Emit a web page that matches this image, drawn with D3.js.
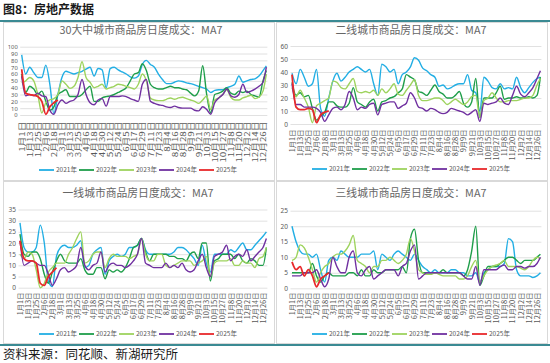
<!DOCTYPE html>
<html>
<head>
<meta charset="utf-8">
<script src="https://cdn.jsdelivr.net/npm/d3@7"></script>
<style>
  body { margin: 0; background: #fff; }
  svg { display: block; }
  text { font-family: "Noto Sans CJK SC", "Noto Sans", sans-serif; }
</style>
</head>
<body>
<svg id="chart" width="550" height="363"></svg>
<script>
// ---- data: MA7 daily transactions, sampled every 6 days (last point = day 365) ----
const years = ['2021年', '2022年', '2023年', '2024年', '2025年'];
const tickLabels = ['1月1日','1月13日','1月25日','2月6日','2月18日','3月1日','3月13日','3月25日','4月6日','4月18日',
  '4月30日','5月12日','5月24日','6月5日','6月17日','6月29日','7月11日','7月23日','8月4日','8月16日',
  '8月28日','9月9日','9月21日','10月3日','10月15日','10月27日','11月8日','11月20日','12月2日','12月14日','12月26日'];

// 30大中城市
const c30_2021 = [88,60,70,62,55,55,73,45,2,30, 55,64,62,60,62,64,67,70,57,68, 66,40,68,70,66,63,60,56,54,57, 74,80,74,70,60,52,46,46,48,50, 49,47,46,44,42,40,38,33,36,37, 37,40,42,45,57,48,50,52,53,57, 65,72];
const c30_2022 = [60,33,42,38,30,35,20,7,12,30, 34,37,27,27,27,30,37,42,20,20, 25,27,28,30,33,36,40,50,60,62, 75,65,45,40,38,38,40,42,40,40, 38,37,32,28,35,72,30,3,30,32, 35,40,32,30,35,33,35,30,28,26, 50,65];
const c30_2023 = [47,50,55,50,30,3,18,22,24,30, 50,45,39,42,55,78,55,48,40,42, 45,38,40,42,45,44,42,40,38,45, 60,50,25,22,21,21,23,25,23,25, 26,24,22,20,17,22,28,8,22,25, 30,37,26,22,22,25,27,29,24,26, 35,60];
const c30_2024 = [57,28,30,28,32,28,27,7,1,15, 22,17,20,22,30,52,30,18,15,22, 24,13,27,27,27,28,27,24,22,20, 45,52,20,17,15,14,12,11,13,11, 10,10,10,7,6,12,8,1,18,25, 30,38,28,26,30,45,33,35,38,42, 48,70];
const c30_2025 = [67,32,30,29,27,20,1,12,18,22];

// 二线城市
const t2_2021 = [39,31,42,36,29,31,42,12,6,20, 33,39,33,36,40,42,44,42,40,42, 31,22,46,44,40,42,31,38,40,44, 51,49,43,41,38,36,29,30,27,28, 30,31,31,38,26,24,10,36,33,28, 27,31,27,28,27,36,28,24,28,32, 35,36];
const t2_2022 = [32,22,24,21,22,12,3,6,9,17, 17,14,13,13,16,28,17,15,13,17, 19,10,17,18,20,21,24,27,38,36, 34,25,24,22,26,30,25,23,20,20, 22,25,16,13,17,35,5,20,20,20, 24,29,19,20,20,21,20,20,21,20, 22,36];
const t2_2023 = [28,21,26,20,13,1,14,16,18,20, 33,32,28,27,31,35,25,24,25,24, 26,22,27,24,27,31,23,22,26,30, 34,22,18,18,19,20,20,18,15,17, 19,17,15,17,21,22,5,18,20,24, 20,17,17,18,18,18,19,20,20,22, 30,35];
const t2_2024 = [31,15,15,13,13,13,12,9,2,7, 12,13,11,15,25,20,11,13,12,15, 16,7,15,16,17,17,12,14,16,24, 20,13,12,10,12,11,9,8,9,12, 11,10,9,7,9,11,2,16,15,16, 17,20,16,15,22,29,23,21,24,28, 35,41];
const t2_2025 = [38,13,11,11,12,11,1,7,9,10];

// 一线城市
const t1_2021 = [29,18,16,16,18,28,20,3,0.5,14, 18,19,18,18,19,21,9,10,15,17, 18,6,12,14,15,14,15,18,18,19, 22,17,15,15,15,15,15,15,16,18, 18,17,15,13,10,19,11,7,15,15, 15,15,17,16,18,20,17,17,19,21, 23,25];
const t1_2022 = [24,15,14,16,16,13,6,2,7,12, 15,12,11,11,11,13,8,6,6,9, 9,4,8,7,8,7,9,13,18,19, 22,16,12,15,15,15,15,14,14,13, 13,12,15,16,13,20,20,3,12,13, 15,15,15,13,15,12,11,13,12,10, 10,18];
const t1_2023 = [15,13,16,15,8,0,2,7,9,11, 11,11,15,18,22,25,11,12,15,16, 16,9,13,15,14,14,14,13,14,15, 22,15,12,12,15,15,10,9,10,11, 12,12,12,10,11,12,14,5,11,12, 12,12,13,10,10,12,11,11,9,13, 14,18];
const t1_2024 = [21,10,11,12,11,10,10,6,1,4, 8,9,7,8,10,18,10,8,10,11, 16,7,10,11,10,10,9,10,12,15, 22,11,10,9,9,9,11,9,10,9, 11,8,7,8,12,15,9,5,14,15, 16,19,12,14,15,14,17,12,14,16, 18,22];
const t1_2025 = [21,13,12,12,11,2,1,5,7,9];

// 三线城市
const t3_2021 = [20,15,12,11,11,10,11,6,2,9, 10,9,12,11,10,10,10,11,11,11, 12,6,11,10,9,11,12,11,10,9, 11,9,7,6,5,6,5,5,5,6, 6,5,5,4,4,5,2,5,6,7, 7,7,8,16,15,6,4,4,4,3.5, 4,5];
const t3_2022 = [5,5,5,5,5,8,4,2,4,5, 4,4,4,4,5,5,4,6,4,4, 6,5,5,6,6,6,6,7,5,16, 19,9,5,5,5,5,5,6,5,5, 5,5,4,6,12,20,1,4,7,7, 7,8,9,10,10,9,8,9,9,9, 10,11];
const t3_2023 = [9,10,14,13,10,6,2,5,7,8, 10,11,11,12,14,17,9,8,7,5, 7,7,9,9,10,9,8,9,11,16, 12,6,5,4.5,4.5,5,4.5,4,4,4, 4,3,3,4,7,9,2,4,6,7, 7.5,8,9,7,7,7,6.5,6,7,9, 10,9.5];
const t3_2024 = [4,4,4,5,5,5,6,3,0.5,3, 10,7,5,5,10,12,5,4,6,7, 3,4,5,6,6,6,4,7,8,12, 14,3,4,5,5,5,5,5,5,5, 5,5,4,3,3,7,1,6,6,6, 6,7,7.5,6,6,7,7,6.5,7,7, 8,10];
const t3_2025 = [8.5,6,7,4,6,4,0.5,3,4,5];

const colors = ['#22aee4', '#1f9e4a', '#9ed35e', '#7030a0', '#e8292b'];
const stepDays = 6;
const dayOf = i => Math.min(i * stepDays, 365);

const panels = [
  {title: '30大中城市商品房日度成交：MA7', series: [c30_2021, c30_2022, c30_2023, c30_2024, c30_2025],
   yMax: 100, yStep: 10, box: [3, 22, 274, 180], x0: 21.7, x1: 263, y0: 115, y1: 46.7, ySize: 5.8,
   titleX: 141, titleY: 34, legendX: 39, legendY: 170, labelTop: 121.5, labelSize: 7.5, labelStretch: 1.3},
  {title: '二线城市商品房日度成交：MA7', series: [t2_2021, t2_2022, t2_2023, t2_2024, t2_2025],
   yMax: 60, yStep: 10, box: [276, 22, 547, 180], x0: 292, x1: 537, y0: 124, y1: 46, ySize: 6.5,
   titleX: 411, titleY: 34, legendX: 312, legendY: 169, labelTop: 129.5, labelSize: 7, labelStretch: 1.05},
  {title: '一线城市商品房日度成交：MA7', series: [t1_2021, t1_2022, t1_2023, t1_2024, t1_2025],
   yMax: 35, yStep: 5, box: [3, 181, 274, 343], x0: 20, x1: 263, y0: 287.7, y1: 209.5, ySize: 6.5,
   titleX: 138, titleY: 197, legendX: 39, legendY: 334, labelTop: 292.5, labelSize: 7, labelStretch: 1.05},
  {title: '三线城市商品房日度成交：MA7', series: [t3_2021, t3_2022, t3_2023, t3_2024, t3_2025],
   yMax: 25, yStep: 5, box: [276, 181, 547, 343], x0: 292, x1: 537, y0: 288.3, y1: 210.7, ySize: 6.5,
   titleX: 411, titleY: 197, legendX: 312, legendY: 334, labelTop: 292.5, labelSize: 7, labelStretch: 1.05}
];

const svg = d3.select('#chart');
svg.append('rect').attr('width', 550).attr('height', 363).attr('fill', '#fff');

// page header + frame lines
svg.append('text').attr('x', 3).attr('y', 14)
  .style('font-size', '12px').style('font-weight', 'bold').attr('fill', '#1a1a1a')
  .text('图8：房地产数据');
svg.append('line').attr('x1', 0).attr('x2', 550).attr('y1', 21).attr('y2', 21)
  .attr('stroke', '#3b8a93').attr('stroke-width', 2);
svg.append('line').attr('x1', 0).attr('x2', 550).attr('y1', 345).attr('y2', 345)
  .attr('stroke', '#3b8a93').attr('stroke-width', 2);
svg.append('text').attr('x', 3).attr('y', 359)
  .style('font-size', '12.5px').attr('fill', '#1a1a1a')
  .text('资料来源：同花顺、新湖研究所');

panels.forEach(p => {
  const g = svg.append('g');
  const [bx0, by0, bx1, by1] = p.box;
  g.append('rect').attr('x', bx0 + 0.5).attr('y', by0 + 0.5)
    .attr('width', bx1 - bx0).attr('height', by1 - by0)
    .attr('fill', '#fff').attr('stroke', '#d9d9d9').attr('stroke-width', 1);

  g.append('text').attr('x', p.titleX).attr('y', p.titleY)
    .attr('text-anchor', 'middle').style('font-size', '10.8px').attr('fill', '#666')
    .text(p.title);

  const x = d3.scaleLinear().domain([0, 360]).range([p.x0, p.x1]);
  const y = d3.scaleLinear().domain([0, p.yMax]).range([p.y0, p.y1]);
  const gridLeft = p.x0 - 1.5;
  const gridRight = x(365) + 1;

  // y axis + gridlines
  const yAxis = g.append('g').attr('transform', `translate(${gridLeft},0)`)
    .call(d3.axisLeft(y)
      .tickValues(d3.range(0, p.yMax + 0.1, p.yStep))
      .tickSize(-(gridRight - gridLeft))
      .tickPadding(2.5));
  yAxis.select('.domain').remove();
  yAxis.selectAll('line').attr('stroke', '#d9d9d9').attr('stroke-width', 0.8);
  yAxis.selectAll('text').style('font-size', p.ySize + 'px').attr('fill', '#595959')
    .style('font-family', '"Noto Sans", sans-serif');

  // x axis labels, rotated
  const tickDays = tickLabels.map((t, i) => i * 12);
  const s = p.labelStretch;
  const xAxis = g.append('g').attr('transform', `translate(0,${p.y0})`)
    .call(d3.axisBottom(x).tickValues(tickDays).tickFormat((d, i) => tickLabels[i]).tickSize(0));
  xAxis.select('.domain').remove();
  xAxis.selectAll('text')
    .attr('transform', `rotate(-90) scale(${s},1)`)
    .attr('x', -(p.labelTop - p.y0) / s)
    .attr('y', 0).attr('dy', '0.35em')
    .style('text-anchor', 'end')
    .style('font-size', p.labelSize + 'px')
    .attr('fill', '#595959');

  // series lines
  const line = d3.line()
    .x((d, i) => x(dayOf(i)))
    .y(d => y(d))
    .curve(d3.curveMonotoneX);
  p.series.forEach((vals, k) => {
    g.append('path').datum(vals)
      .attr('d', line)
      .attr('fill', 'none')
      .attr('stroke', colors[k])
      .attr('stroke-width', k === 4 ? 1.8 : 1.4)
      .attr('stroke-linejoin', 'round');
  });

  // legend
  const leg = g.append('g');
  years.forEach((yr, k) => {
    const lx = p.legendX + k * 40;
    leg.append('line').attr('x1', lx).attr('x2', lx + 15)
      .attr('y1', p.legendY).attr('y2', p.legendY)
      .attr('stroke', colors[k]).attr('stroke-width', 1.8);
    leg.append('text').attr('x', lx + 17).attr('y', p.legendY + 2.3)
      .style('font-size', '6.5px').attr('fill', '#595959')
      .text(yr);
  });
});
</script>
</body>
</html>
